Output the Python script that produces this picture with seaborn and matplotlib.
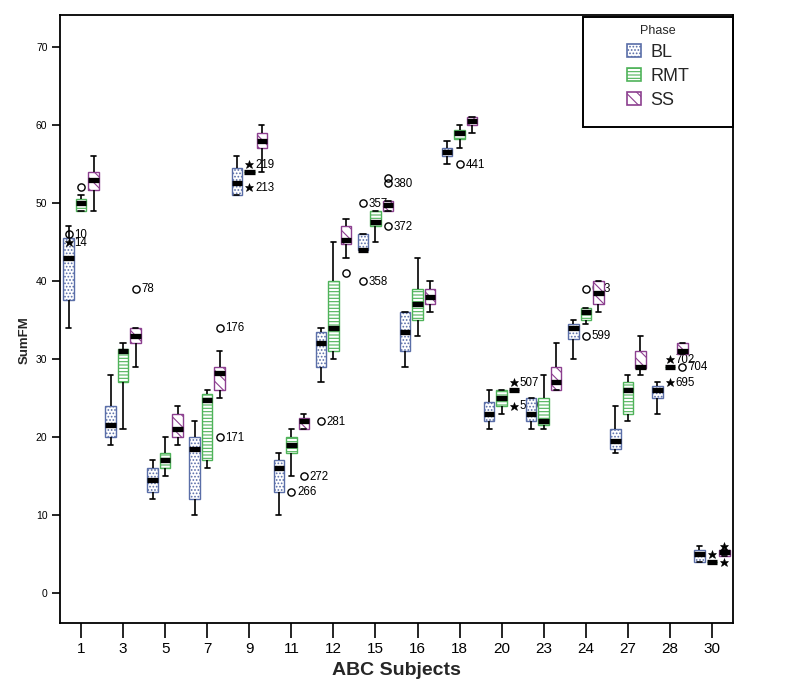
import numpy as np
import pandas as pd
import matplotlib
matplotlib.use("Agg")
import matplotlib.pyplot as plt
from matplotlib.patches import Patch, Rectangle
import seaborn as sns

# ---------------- data ----------------
categories = ['1', '3', '5', '7', '9', '11', '12', '15', '16', '18', '20', '23', '24', '27', '28', '30']
phases = ['BL', 'RMT', 'SS']

# five-number summaries (lower whisker, Q1, median, Q3, upper whisker)
bl_low  = [34, 19, 12, 10, 51, 10, 27, 44, 29, 55, 21, 21, 30, 18, 23, 4]
bl_q1   = [37.5, 20, 13, 12, 51, 13, 29, 44, 31, 56, 22, 22, 32.5, 18.5, 25, 4]
bl_med  = [43, 21.5, 14.5, 18.5, 52.5, 16, 32, 44, 33.5, 56.5, 23, 23, 34, 19.5, 26, 5]
bl_q3   = [45.5, 24, 16, 20, 54.5, 17, 33.5, 46, 36, 57, 24.5, 25, 34.5, 21, 26.5, 5.5]
bl_high = [47, 28, 17, 22, 56, 18, 34, 46, 36, 58, 26, 25, 35, 24, 27, 6]

rmt_low  = [49, 21, 15, 16, 54, 15, 30, 45, 33, 57, 23, 21, 34.5, 22, 29, 4]
rmt_q1   = [49, 27, 16, 17, 54, 18, 31, 47, 35, 58.2, 24, 21.5, 35, 23, 29, 4]
rmt_med  = [50, 31, 17, 24.7, 54, 19, 34, 47.5, 37, 59, 25, 22, 36, 26, 29, 4]
rmt_q3   = [50.5, 31.3, 18, 25.5, 54, 20, 40, 49, 39, 59.4, 26, 25, 36.5, 27, 29, 4]
rmt_high = [51, 32, 20, 26, 54, 21, 45, 49, 43, 60, 26, 28, 36.5, 28, 29, 4]

ss_low  = [49, 29, 19, 25, 54, 21, 43, 49, 36, 59, 26, 26, 36, 28, 30.7, 4.7]
ss_q1   = [51.7, 32, 20, 26, 57, 21, 44.8, 49, 37, 60, 26, 26, 37, 28.8, 30.7, 4.7]
ss_med  = [53, 33, 21, 28.2, 58, 22, 45.3, 49.7, 38, 60.5, 26, 27, 38.5, 29, 31, 5.2]
ss_q3   = [54, 34, 23, 29, 59, 22.4, 47, 50.3, 39, 61, 26, 29, 40, 31, 32, 5.5]
ss_high = [56, 34, 24, 31, 60, 23, 48, 50.3, 40, 61, 26, 32, 40, 33, 32, 5.5]

# outliers: circles (o) and extremes (*)
out_subject = ['1', '1', '1', '3', '7', '7', '9', '9', '11', '11', '12', '12',
               '15', '15', '15', '15', '15', '18', '20', '20', '24', '24',
               '28', '28', '28', '30', '30', '30']
out_phase = ['BL', 'BL', 'RMT', 'SS', 'SS', 'SS', 'RMT', 'RMT', 'RMT', 'SS', 'BL', 'SS',
             'BL', 'BL', 'SS', 'SS', 'SS', 'RMT', 'SS', 'SS', 'RMT', 'RMT',
             'RMT', 'RMT', 'SS', 'RMT', 'SS', 'SS']
out_value = [46, 45, 52, 39, 34, 20, 55, 52, 13, 15, 22, 41,
             50, 40, 53.2, 52.5, 47, 55, 27, 24, 39, 33,
             30, 27, 29, 5, 6, 4]
out_kind = ['o', '*', 'o', 'o', 'o', 'o', '*', '*', 'o', 'o', 'o', 'o',
            'o', 'o', 'o', 'o', 'o', 'o', '*', '*', 'o', 'o',
            '*', '*', 'o', '*', '*', '*']
out_label = ['10', '14', '11', '78', '176', '171', '219', '213', '266', '272', '281', '',
             '357', '358', '', '380', '372', '441', '507', '509', '603', '599',
             '702', '695', '704', '', '', '']

y_ticks = [0, 10, 20, 30, 40, 50, 60, 70]

edge_colors = {'BL': '#5a6ea8', 'RMT': '#4fb35a', 'SS': '#8c3f8f'}
hatches = {'BL': '.....', 'RMT': '-----', 'SS': '\\\\\\'}

# ---------------- build long table ----------------
summaries = {
    'BL': [bl_low, bl_q1, bl_med, bl_q3, bl_high],
    'RMT': [rmt_low, rmt_q1, rmt_med, rmt_q3, rmt_high],
    'SS': [ss_low, ss_q1, ss_med, ss_q3, ss_high],
}
rows = []
for ph in phases:
    for i, cat in enumerate(categories):
        for arr in summaries[ph]:
            rows.append({'ABC Subjects': cat, 'Phase': ph, 'SumFM': arr[i]})
df = pd.DataFrame(rows)

# ---------------- style ----------------
sns.set_theme(style='white')
plt.rcParams['font.family'] = ['Liberation Sans', 'DejaVu Sans']
plt.rcParams['hatch.linewidth'] = 0.8

fig = plt.figure(figsize=(7.9, 7.0), dpi=100)
ax = fig.add_axes([60 / 790, 1 - 623 / 700, (733 - 60) / 790, (623 - 15) / 700])

sns.boxplot(data=df, x='ABC Subjects', y='SumFM', hue='Phase',
            order=categories, hue_order=phases, whis=(0, 100),
            width=0.89, gap=0.16, palette=edge_colors, linecolor='black',
            linewidth=1.0, legend=False, ax=ax,
            medianprops=dict(color='black', linewidth=3.8, solid_capstyle='butt'),
            whiskerprops=dict(color='black', linewidth=1.2),
            capprops=dict(color='black', linewidth=1.2))

pos = {}
for ph, cont in zip(phases, ax.containers):
    for box in cont.boxes:
        box.set_facecolor('white')
        box.set_edgecolor(edge_colors[ph])
        box.set_hatch(hatches[ph])
        box.set_linewidth(1.0)
    for i, med in enumerate(cont.medians):
        pos[(categories[i], ph)] = float(np.mean(med.get_xdata()))
        med.set_zorder(2.5)

for s, ph, v, k, lab in zip(out_subject, out_phase, out_value, out_kind, out_label):
    x = pos[(s, ph)]
    if k == 'o':
        ax.plot([x], [v], marker='o', mfc='none', mec='black', ms=5.2, mew=1.0,
                linestyle='none', zorder=4)
    else:
        ax.plot([x], [v], marker='*', mfc='black', mec='black', ms=6.3, mew=0.4,
                linestyle='none', zorder=4)
    if lab:
        ax.annotate(lab, (x, v), xytext=(4.2, -0.5), textcoords='offset points',
                    ha='left', va='center', fontsize=8.3, color='black', zorder=1.5)

ax.set_xlim(-0.5, len(categories) - 0.5)
ax.set_ylim(-3.85, 74.1)
ax.set_yticks(y_ticks)
ax.set_yticklabels([str(t) for t in y_ticks])

for sp in ax.spines.values():
    sp.set_visible(True)
    sp.set_color('black')
    sp.set_linewidth(1.3)

ax.tick_params(axis='x', length=11, width=1.2, direction='out', labelsize=11, pad=3,
               colors='black', bottom=True)
ax.tick_params(axis='y', length=6, width=1.2, direction='out', labelsize=7.5, pad=3,
               colors='black', left=True)

ax.set_xlabel('ABC Subjects', fontsize=14, fontweight='bold', labelpad=4)
ax.set_ylabel('SumFM', fontsize=9.5, fontweight='bold')
ax.yaxis.set_label_coords(-0.043, 0.465)

# legend
handles = [Patch(facecolor='white', edgecolor=edge_colors[p], hatch=hatches[p],
                 linewidth=1.2, label=p) for p in phases]
leg = ax.legend(handles=handles, title='Phase', loc='upper center',
                bbox_to_anchor=(658 / 790, 1 - 16 / 700), bbox_transform=fig.transFigure,
                frameon=False, fontsize=13, title_fontsize=9,
                handlelength=0.78, handleheight=0.78, handletextpad=0.55,
                labelspacing=0.38, borderpad=0)
leg.set_zorder(5)
frame = Rectangle((583 / 790, 1 - 127 / 700), 150 / 790, 110 / 700,
                  transform=fig.transFigure, fill=False, edgecolor='black',
                  linewidth=1.4, zorder=6)
fig.patches.append(frame)

fig.savefig('out.png', dpi=100, facecolor='white')
